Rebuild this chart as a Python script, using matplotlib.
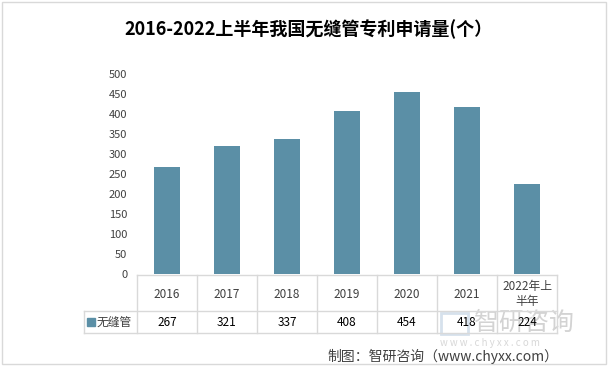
import matplotlib
matplotlib.use("Agg")
import matplotlib.pyplot as plt
from matplotlib.patches import Rectangle

plt.rcParams['font.family'] = ['Noto Sans CJK SC', 'DejaVu Sans']

categories = ["2016", "2017", "2018", "2019", "2020", "2021", "2022年上\n半年"]
values = [267, 321, 337, 408, 454, 418, 224]
series_name = "无缝管"
yticks = [0, 50, 100, 150, 200, 250, 300, 350, 400, 450, 500]
title = "2016-2022上半年我国无缝管专利申请量(个）"
source = "制图：智研咨询（www.chyxx.com）"

W, H = 610, 368
fig = plt.figure(figsize=(W/100, H/100), dpi=100)

def fx(x): return x / W
def fy(y): return 1 - y / H

L, R, T, B = 137, 557, 74, 274
ax = fig.add_axes([fx(L), fy(B), fx(R) - fx(L), fy(T) - fy(B)])
color = "#5B8FA6"
x = range(len(categories))
ax.bar(x, values, width=0.43, color=color, zorder=3)
ax.set_xlim(-0.5, len(categories) - 0.5)
ax.set_ylim(0, 500)
ax.set_yticks(yticks)
ax.set_yticklabels([str(v) for v in yticks], fontsize=8, color="#404040")
ax.tick_params(axis='y', length=0, pad=7)
ax.set_xticks([])
for s in ax.spines.values():
    s.set_visible(False)

# outer border
fig.add_artist(Rectangle((fx(2), fy(364)), fx(606) - fx(2), fy(2) - fy(364),
                         transform=fig.transFigure, fill=False, edgecolor="#D9D9D9", lw=1))

# title
fig.text(fx(308), fy(29), title, ha='center', va='center', fontsize=13, fontweight='bold', color="#000000")

# data table
line_c = "#D9D9D9"
colw = (R - L) / len(categories)
y_top, y_mid, y_bot = 275, 311, 333
left_lbl = 84
def hline(y, x0, x1):
    fig.add_artist(plt.Line2D([fx(x0), fx(x1)], [fy(y), fy(y)], transform=fig.transFigure, color=line_c, lw=1))
def vline(xp, y0, y1):
    fig.add_artist(plt.Line2D([fx(xp), fx(xp)], [fy(y0), fy(y1)], transform=fig.transFigure, color=line_c, lw=1))

hline(y_top, L, R)
hline(y_mid, left_lbl, R)
hline(y_bot, left_lbl, R)
vline(left_lbl, y_mid, y_bot)
for i in range(len(categories) + 1):
    vline(L + i * colw, y_top, y_bot)

# watermark (behind table text)
fig.text(fx(474), fy(323), "智研咨询", ha='left', va='center', fontsize=18, color="#D3D3D3", zorder=0)
fig.text(fx(440), fy(343), "w w w . c h y x x . c o m", ha='left', va='center', fontsize=7,
         color="#D8D8D8", zorder=0)
fig.add_artist(Rectangle((fx(441), fy(334)), fx(468) - fx(441), fy(313) - fy(334),
                         transform=fig.transFigure, fill=False, edgecolor="#C5D5E5", lw=2, alpha=0.7, zorder=0))

for i, (c, v) in enumerate(zip(categories, values)):
    cx = L + (i + 0.5) * colw
    fig.text(fx(cx), fy((y_top + y_mid) / 2 + 1), c, ha='center', va='center', fontsize=8.5,
             color="#404040", linespacing=1.2)
    fig.text(fx(cx), fy((y_mid + y_bot) / 2 + 1), str(v), ha='center', va='center', fontsize=8.5,
             color="#000000")

# legend key in table
fig.add_artist(Rectangle((fx(87), fy(326)), fx(95) - fx(87), fy(318) - fy(326),
                         transform=fig.transFigure, color=color))
fig.text(fx(97), fy(322), series_name, ha='left', va='center', fontsize=8.5, color="#404040")

# source
fig.text(fx(558), fy(356), source, ha='right', va='center', fontsize=10, color="#404040")

fig.savefig("out.png", dpi=100)
